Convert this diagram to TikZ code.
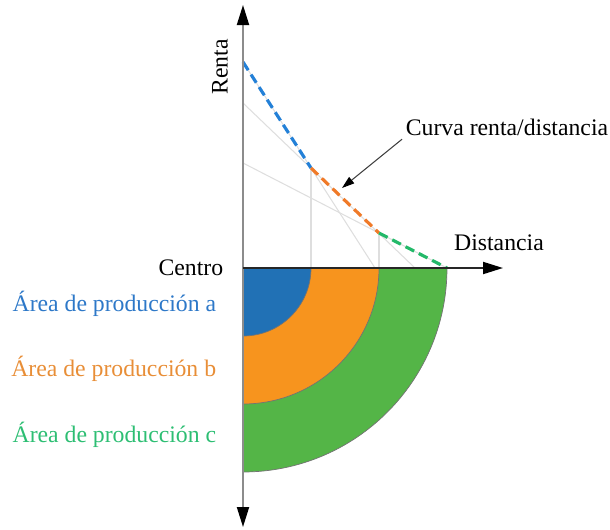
\documentclass[tikz,border=0pt]{standalone}
\usepackage{fontspec}
\setmainfont{Liberation Serif}
\usetikzlibrary{arrows.meta}
\definecolor{zoneA}{RGB}{33,113,181}
\definecolor{zoneB}{RGB}{247,148,30}
\definecolor{zoneC}{RGB}{84,181,71}
\definecolor{rentA}{RGB}{35,128,215}
\definecolor{rentB}{RGB}{240,122,40}
\definecolor{rentC}{RGB}{35,185,105}
\definecolor{txtA}{RGB}{45,120,200}
\definecolor{txtB}{RGB}{232,142,55}
\definecolor{txtC}{RGB}{45,190,115}
\tikzset{
  axisline/.style={line width=1.1pt, -{Triangle[length=0.4cm, width=0.24cm, color=black]}},
  bothaxis/.style={line width=1.1pt, {Triangle[length=0.4cm, width=0.24cm, color=black]}-{Triangle[length=0.4cm, width=0.24cm, color=black]}},
  rentline/.style={line width=1.8pt, dash pattern=on 5.5pt off 3pt},
  helpline/.style={line width=0.6pt, black!13},
  lbl/.style={font=\fontsize{13.5}{16}\selectfont, inner sep=2pt}
}
\def\zone(#1,#2){
  \fill[#2] (0,0) -- (#1,0) arc (0:-90:#1) -- cycle;
  \draw[black!55, line width=0.4pt] (#1,0) arc (0:-90:#1);
}

\begin{document}
\begin{tikzpicture}[x=0.02cm, y=0.02cm]
\useasboundingbox (-243,-261) rectangle (367,268);
\coordinate (O) at (0,0);
\coordinate (k0) at (0,206);
\coordinate (k1) at (68,100);
\coordinate (k2) at (136,35);
\coordinate (k3) at (204,0);
% production areas
\zone(204,zoneC)
\zone(136,zoneB)
\zone(68,zoneA)
% rent lines of each area
\draw[helpline] (k0) -- (132,0);
\draw[helpline] (0,165) -- (172,0);
\draw[helpline] (0,105) -- (k3);
\draw[helpline] (k1) -- (68,0);
\draw[helpline] (k2) -- (136,0);
\draw[rentline, rentA] (k0) -- (k1);
\draw[rentline, rentB] (k1) -- (k2);
\draw[rentline, rentC] (k2) -- (k3);
% axes
\coordinate (yTop) at (0,263);
\coordinate (yBot) at (0,-259);
\coordinate (xEnd) at (260,0);
\draw[bothaxis, black!45] (yBot) -- (yTop);
\draw[axisline, black!85] (O) -- (xEnd);
\node[lbl, rotate=90] (renta) at (-23,201) {Renta};
\node[lbl] (distancia) at (256,25) {Distancia};
\node[lbl, anchor=base east] (centro) at (-16,-7) {Centro};
\node[lbl] (curva) at (264,141) {Curva renta/distancia};
\coordinate (tip) at (99,80);
\draw[black!75, line width=0.6pt, -{Triangle[length=0.25cm, width=0.16cm, color=black]}] (curva.south west) -- (tip);
\node[lbl, anchor=east, txtA] (areaA) at (-23,-36) {Área de producción a};
\node[lbl, anchor=east, txtB] (areaB) at (-23,-101) {Área de producción b};
\node[lbl, anchor=east, txtC] (areaC) at (-23,-167) {Área de producción c};
\end{tikzpicture}
\end{document}
